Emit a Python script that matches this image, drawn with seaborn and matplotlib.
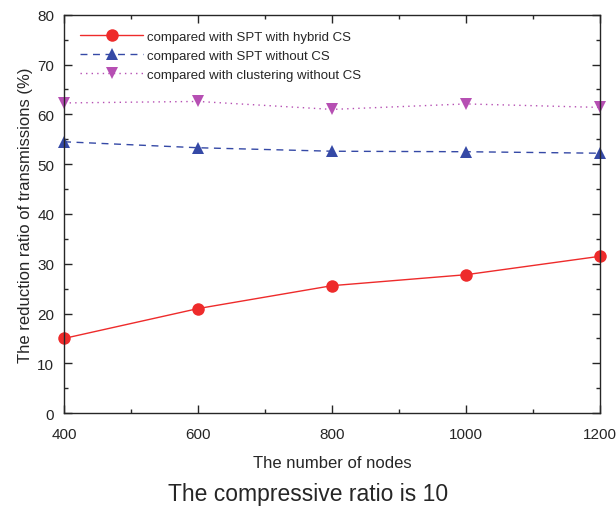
import matplotlib
matplotlib.use('Agg')
import matplotlib.pyplot as plt
import seaborn as sns
import pandas as pd
from matplotlib.ticker import MultipleLocator

# Data
nodes = [400, 600, 800, 1000, 1200]
spt_hybrid = [15.0, 21.0, 25.6, 27.8, 31.5]
spt_no_cs = [54.5, 53.3, 52.6, 52.5, 52.2]
clustering_no_cs = [62.3, 62.6, 61.0, 62.1, 61.4]
labels = ["compared with SPT with hybrid CS",
          "compared with SPT without CS",
          "compared with clustering without CS"]

sns.set_style("ticks")
plt.rcParams['font.family'] = ['Liberation Sans', 'DejaVu Sans']

fig = plt.figure(figsize=(6.16, 5.1), dpi=100)
ax = fig.add_axes([0.104, 0.188, 0.870, 0.781])

styles = [
    (spt_hybrid, "#ee2b2b", "-", "o"),
    (spt_no_cs, "#3549a6", (0, (5, 4)), "^"),
    (clustering_no_cs, "#b64fb3", (0, (1, 3)), "v"),
]
for (vals, color, ls, mk), lab in zip(styles, labels):
    df = pd.DataFrame({"nodes": nodes, "value": vals})
    sns.lineplot(data=df, x="nodes", y="value", ax=ax, color=color,
                 linestyle=ls, marker=mk, markersize=9, markeredgewidth=0,
                 linewidth=1.0, label=lab, clip_on=False)

ax.set_xlim(400, 1200)
ax.set_ylim(0, 80)
ax.xaxis.set_major_locator(MultipleLocator(200))
ax.xaxis.set_minor_locator(MultipleLocator(100))
ax.yaxis.set_major_locator(MultipleLocator(10))
ax.yaxis.set_minor_locator(MultipleLocator(5))
ax.tick_params(which='both', direction='in', top=True, right=True, labelsize=11)
ax.tick_params(which='major', length=6, width=1)
ax.tick_params(which='minor', length=3, width=1)
ax.tick_params(axis='x', pad=10)
ax.tick_params(axis='y', pad=7)
for s in ax.spines.values():
    s.set_linewidth(1.0)

ax.set_xlabel("The number of nodes", fontsize=12, labelpad=10)
ax.set_ylabel("The reduction ratio of transmissions (%)", fontsize=12, labelpad=3)

leg = ax.legend(loc='upper left', frameon=False, fontsize=9.5,
                handlelength=4.8, handletextpad=0.3, labelspacing=0.5,
                borderaxespad=0.7, borderpad=0.5)

fig.text(0.5, 0.018, "The compressive ratio is 10", ha='center', fontsize=16.5)

fig.savefig("out.png", dpi=100)
